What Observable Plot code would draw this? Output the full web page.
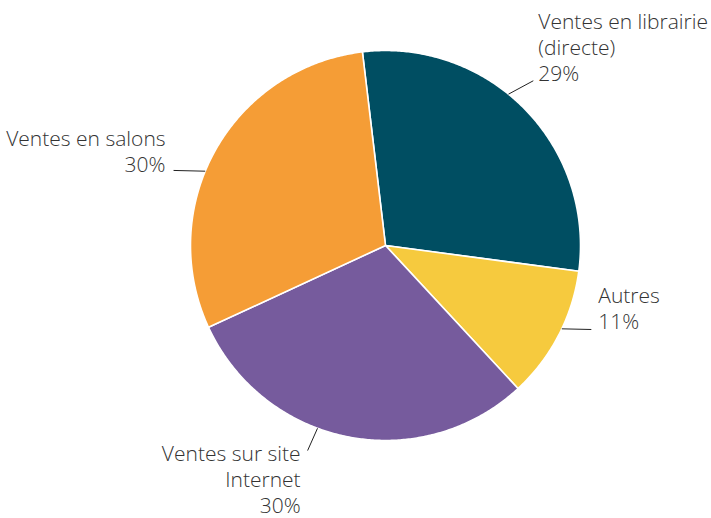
<!DOCTYPE html>
<html>
<head>
<meta charset="utf-8">
<script src="https://cdn.jsdelivr.net/npm/d3@7"></script>
<script src="https://cdn.jsdelivr.net/npm/@observablehq/plot@0.6"></script>
<style>
  html, body { margin: 0; padding: 0; background: #fff; }
  #chart { width: 711px; height: 518px; }
</style>
</head>
<body>
<div id="chart"></div>
<script>
// ---- data ----
const categories = ["Ventes en librairie\n(directe)", "Autres", "Ventes sur site\nInternet", "Ventes en salons"];
const shares = [29, 11, 30, 30];
const colors = ["#004e62", "#f6ca3e", "#765b9d", "#f59d36"];

// ---- layout (polar, degrees clockwise from top, radius in pie units) ----
const startAngle = -6.8;
const leaderAngles = [[39.1, 41.9], [115.3, 112.2], [200.4, 200.8], [292.4, 289.5]];
const leaderOuter = [1.135, 1.14, 1.125, 1.153];
const textAnchors = ["start", "start", "end", "end"];
const lineAnchors = ["bottom", "bottom", "top", "bottom"];
const textDx = [5, 7, -7, -8];
const textDy = [0, 0, -8, 2];

const rad = d => d * Math.PI / 180;
const px = (a, r) => r * Math.sin(rad(a));
const py = (a, r) => r * Math.cos(rad(a));

// slice polygons from shares
const total = d3.sum(shares);
const slicePts = [];
let acc = startAngle;
shares.forEach((v, i) => {
  const a0 = acc, a1 = acc + v / total * 360;
  acc = a1;
  slicePts.push({cat: categories[i], x: 0, y: 0});
  const n = Math.ceil((a1 - a0) / 0.5);
  for (let k = 0; k <= n; k++) {
    const a = a0 + (a1 - a0) * k / n;
    slicePts.push({cat: categories[i], x: px(a, 1), y: py(a, 1)});
  }
  slicePts.push({cat: categories[i], x: 0, y: 0});
});

const leaders = categories.map((c, i) => ({
  cat: c,
  x1: px(leaderAngles[i][0], 1), y1: py(leaderAngles[i][0], 1),
  x2: px(leaderAngles[i][1], leaderOuter[i]), y2: py(leaderAngles[i][1], leaderOuter[i])
}));

const marks = [
  Plot.line(slicePts, {x: "x", y: "y", z: "cat", fill: "cat", stroke: "white", strokeWidth: 1.6, strokeLinejoin: "round", curve: "linear"}),
  Plot.link(leaders, {x1: "x1", y1: "y1", x2: "x2", y2: "y2", stroke: "#222", strokeWidth: 1})
];
categories.forEach((c, i) => {
  marks.push(Plot.text([leaders[i]], {
    x: "x2", y: "y2",
    text: () => c + "\n" + shares[i] + "%",
    textAnchor: textAnchors[i],
    lineAnchor: lineAnchors[i],
    dx: textDx[i], dy: textDy[i],
    fontSize: 21,
    lineHeight: 26 / 21,
    fill: "#333"
  }));
});

const chart = Plot.plot({
  width: 711,
  height: 518,
  marginLeft: 190,
  marginRight: 131,
  marginTop: 50,
  marginBottom: 78,
  x: {domain: [-1, 1], axis: null},
  y: {domain: [-1, 1], axis: null},
  color: {domain: categories, range: colors},
  style: {fontFamily: "'Open Sans', Lato, sans-serif", fontWeight: 300, background: "white", overflow: "visible"},
  marks
});
document.getElementById("chart").appendChild(chart);
</script>
</body>
</html>
